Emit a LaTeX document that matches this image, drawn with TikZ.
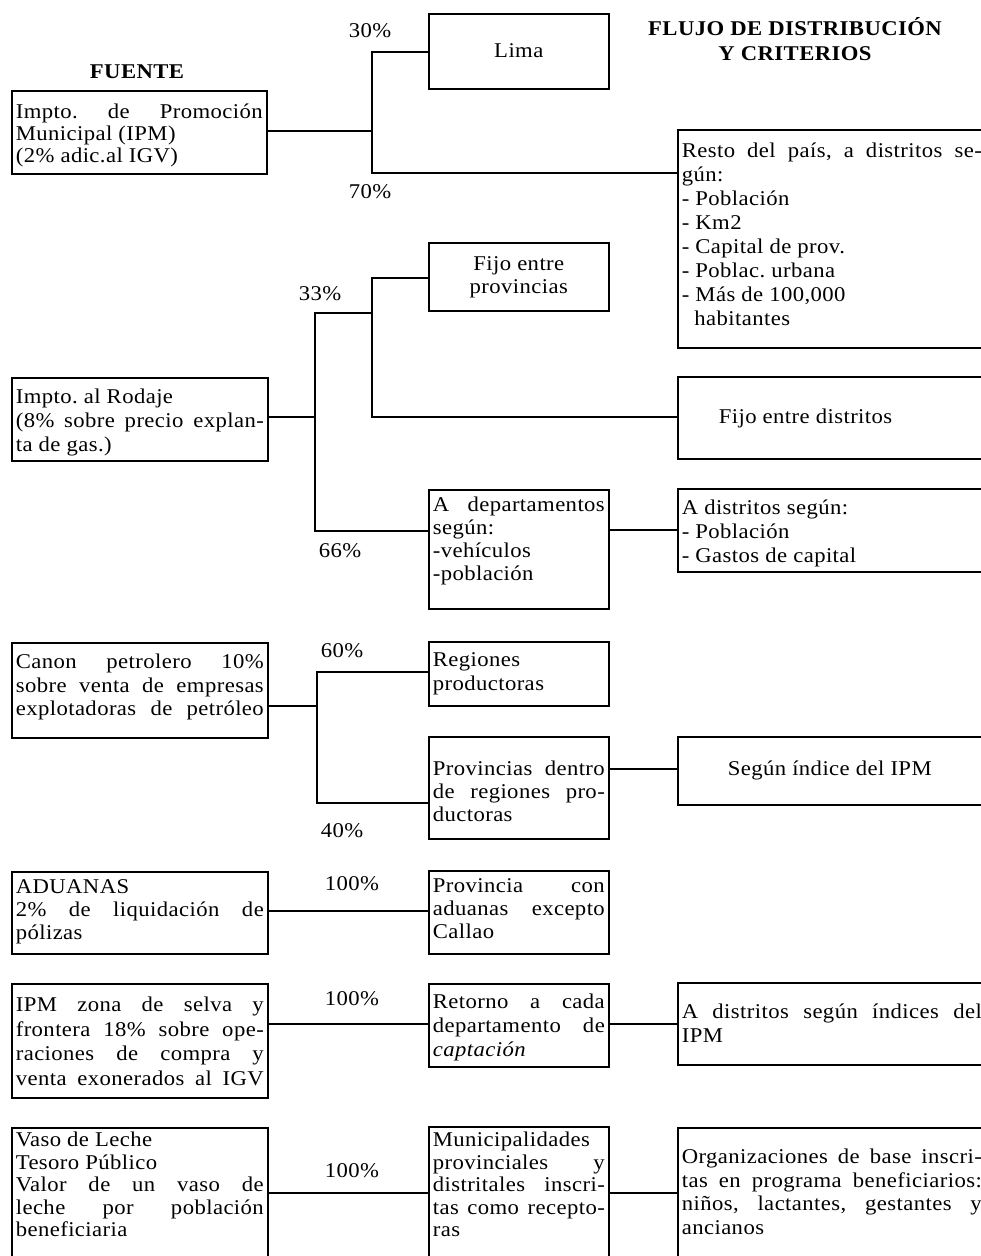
\documentclass[tikz,border=0pt]{standalone}
\usepackage{fontspec}
\setmainfont{Liberation Serif}[FakeStretch=1.08,LetterSpace=2]
\frenchspacing
\newcommand\jl[1]{\makebox[\linewidth][s]{#1}}
\newcommand\bx[8]{%
  \node[bxs, minimum width=#4pt-#2pt, minimum height=#5pt-#3pt] (#1) at (#2,#3)
  {\parbox[c][\dimexpr#5pt-#3pt\relax][t]{\dimexpr#4pt-#2pt-8pt\relax}{\frenchspacing\setlength{\baselineskip}{#7pt}\lineskiplimit=-\maxdimen\vspace*{#6pt}\strut#8}};}
\begin{document}
\begin{tikzpicture}[x=1pt,y=-1pt,
  font=\fontsize{21}{22.5}\selectfont,
  bxs/.style={draw, line width=1.6pt, inner xsep=4pt, inner ysep=0pt, anchor=north west},
  con/.style={line width=1.6pt},
  lab/.style={anchor=base, inner sep=0pt},
  ttl/.style={anchor=base, inner sep=0pt, font=\fontsize{21}{22.5}\selectfont\bfseries}]
\useasboundingbox (0,0) rectangle (981,1256);
\fill[white] (0,0) rectangle (981,1256);
\clip (0,0) rectangle (981,1256);

% titles
\node[ttl] (fuente) at (137,78) {FUENTE};
\node[ttl] (flujo1) at (795,35) {FLUJO DE DISTRIBUCIÓN};
\node[ttl] (flujo2) at (795,60) {Y CRITERIOS};

% row 1
\bx{ipm}{11}{90}{266}{173}{12}{22}{\jl{Impto. de Promoción}\\Municipal (IPM)\\(2\% adic.al IGV)}
\bx{lima}{428}{13}{608}{88}{28}{23}{\centering Lima}
\bx{resto}{677}{129}{985}{347}{12}{24}{\jl{Resto del país, a distritos se-}\\gún:\\- Población\\- Km2\\- Capital de prov.\\- Poblac. urbana\\- Más de 100,000\\\hspace*{0.6em}habitantes}

% row 2
\bx{fprov}{428}{242}{608}{310}{12}{23}{\centering Fijo entre\\provincias}
\bx{rodaje}{11}{377}{267}{460}{10}{24}{Impto. al Rodaje\\\jl{(8\% sobre precio explan-}\\ta de gas.)}
\bx{fdist}{677}{376}{985}{458}{31}{23}{\hspace*{37pt}Fijo entre distritos}
\bx{adep}{428}{489}{608}{608}{6}{23}{\jl{A departamentos}\\según:\\-vehículos\\-población}
\bx{adis}{677}{488}{985}{571}{10}{24}{A distritos según:\\- Población\\- Gastos de capital}

% row 3
\bx{canon}{11}{642}{267}{737}{10}{23.5}{\jl{Canon petrolero 10\%}\\\jl{sobre venta de empresas}\\\jl{explotadoras de petróleo}}
\bx{reg}{428}{641}{608}{705}{9}{24}{Regiones\\productoras}
\bx{prov}{428}{736}{608}{838}{23}{23}{\jl{Provincias dentro}\\\jl{de regiones pro-}\\ductoras}
\bx{segun}{677}{736}{985}{804}{23}{23}{\hspace*{46pt}Según índice del IPM}

% row 4
\bx{adu}{11}{871}{267}{953}{6}{23}{ADUANAS\\\jl{2\% de liquidación de}\\pólizas}
\bx{pcon}{428}{870}{608}{953}{6}{23}{\jl{Provincia con}\\\jl{aduanas excepto}\\Callao}

% row 5
\bx{ipmz}{11}{983}{267}{1097}{12}{24.5}{\jl{IPM zona de selva y}\\\jl{frontera 18\% sobre ope-}\\\jl{raciones de compra y}\\\jl{venta exonerados al IGV}}
\bx{ret}{428}{983}{608}{1066}{9}{24}{\jl{Retorno a cada}\\\jl{departamento de}\\\textit{captación}}
\bx{aidx}{677}{982}{985}{1064}{20}{24}{\jl{A distritos según índices del}\\IPM}

% row 6
\bx{vaso}{11}{1127}{267}{1262}{3}{22.5}{Vaso de Leche\\Tesoro Público\\\jl{Valor de un vaso de}\\\jl{leche por población}\\beneficiaria}
\bx{muni}{428}{1126}{608}{1262}{4}{22.5}{\jl{Municipalidades}\\\jl{provinciales y}\\\jl{distritales inscri-}\\\jl{tas como recepto-}\\ras}
\bx{org}{677}{1127}{985}{1262}{20}{23.5}{\jl{Organizaciones de base inscri-}\\\jl{tas en programa beneficiarios:}\\\jl{niños, lactantes, gestantes y}\\ancianos}

% percentages
\node[lab] (p30) at (370,37) {30\%};
\node[lab] (p70) at (370,198) {70\%};
\node[lab] (p33) at (320,300) {33\%};
\node[lab] (p66) at (340,557) {66\%};
\node[lab] (p60) at (342,657) {60\%};
\node[lab] (p40) at (342,837) {40\%};
\node[lab] (p100a) at (352,890) {100\%};
\node[lab] (p100b) at (352,1005) {100\%};
\node[lab] (p100c) at (352,1177) {100\%};

% connectors row 1
\coordinate (j1) at (372,131);
\coordinate (j1t) at (372,52);
\coordinate (j1b) at (372,173);
\draw[con] (ipm.east |- j1) -- (j1);
\draw[con] (lima.west |- j1t) -- (j1t) -- (j1b) -- (resto.west |- j1b);

% connectors row 2
\coordinate (j2) at (315,417);
\coordinate (j2t) at (315,313);
\coordinate (j2b) at (315,531);
\coordinate (j3t) at (372,278);
\coordinate (j3m) at (372,313);
\coordinate (j3b) at (372,417);
\coordinate (k2) at (640,530);
\draw[con] (rodaje.east |- j2) -- (j2);
\draw[con] (j3m) -- (j2t) -- (j2b) -- (adep.west |- j2b);
\draw[con] (fprov.west |- j3t) -- (j3t) -- (j3b) -- (fdist.west |- j3b);
\draw[con] (adep.east |- k2) -- (adis.west |- k2);

% connectors row 3
\coordinate (j4) at (317,706);
\coordinate (j4t) at (317,672);
\coordinate (j4b) at (317,803);
\coordinate (k3) at (640,769);
\draw[con] (canon.east |- j4) -- (j4);
\draw[con] (reg.west |- j4t) -- (j4t) -- (j4b) -- (prov.west |- j4b);
\draw[con] (prov.east |- k3) -- (segun.west |- k3);

% connectors rows 4-6
\coordinate (k4) at (350,911);
\coordinate (k5) at (350,1024);
\coordinate (k5b) at (640,1024);
\coordinate (k6) at (350,1193);
\coordinate (k6b) at (640,1193);
\draw[con] (adu.east |- k4) -- (pcon.west |- k4);
\draw[con] (ipmz.east |- k5) -- (ret.west |- k5);
\draw[con] (ret.east |- k5b) -- (aidx.west |- k5b);
\draw[con] (vaso.east |- k6) -- (muni.west |- k6);
\draw[con] (muni.east |- k6b) -- (org.west |- k6b);
\end{tikzpicture}
\end{document}
